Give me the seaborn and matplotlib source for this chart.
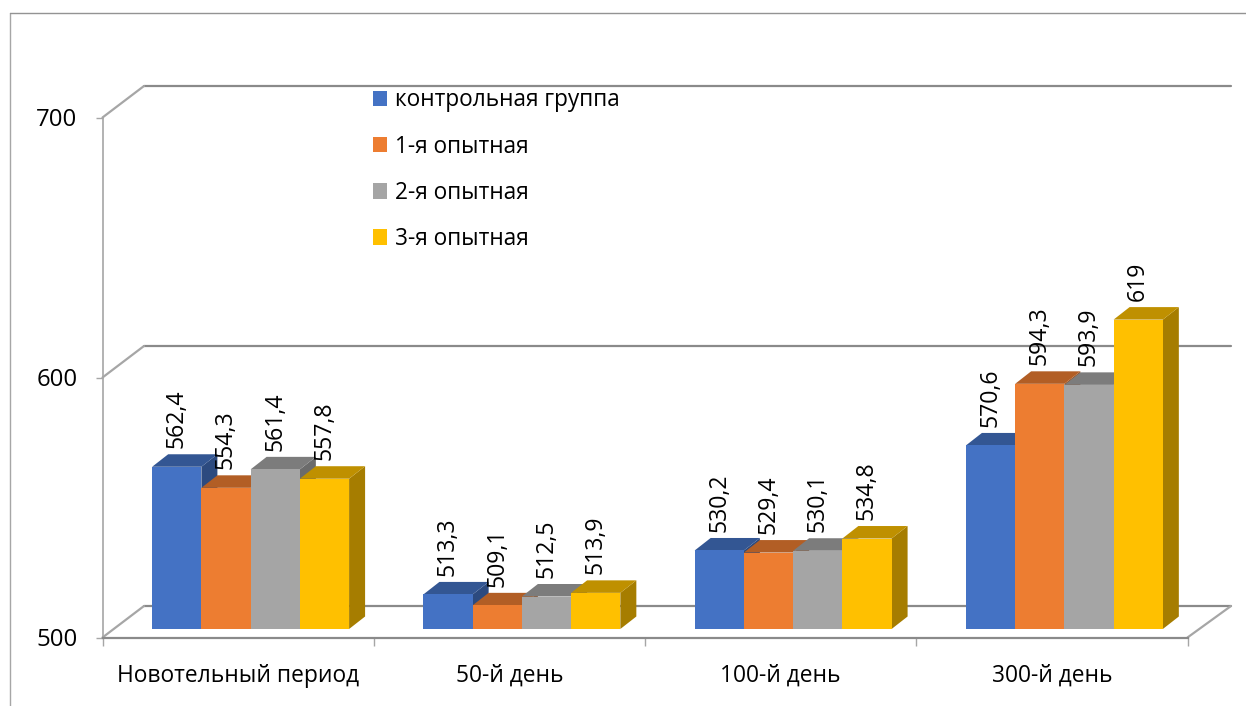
import pandas as pd
import matplotlib.pyplot as plt
import matplotlib.colors as mcolors
import matplotlib.transforms as mtransforms
from matplotlib.lines import Line2D
from matplotlib.patches import Patch, Polygon
import seaborn as sns

# Data
periods = ['Новотельный период', '50-й день', '100-й день', '300-й день']
groups = ['контрольная группа', '1-я опытная', '2-я опытная', '3-я опытная']
control = [562.4, 513.3, 530.2, 570.6]
exp_1 = [554.3, 509.1, 529.4, 594.3]
exp_2 = [561.4, 512.5, 530.1, 593.9]
exp_3 = [557.8, 513.9, 534.8, 619]
y_ticks = [500, 600, 700]
colors = ['#4472C4', '#ED7D31', '#A5A5A5', '#FFC000']

GRID = '#8a8a8a'
AXIS = '#a6a6a6'
W, H = 1246, 706

sns.set_theme(style='white')
plt.rcParams['font.family'] = ['Open Sans', 'DejaVu Sans']

rows = []
for group, values in zip(groups, [control, exp_1, exp_2, exp_3]):
    for period, value in zip(periods, values):
        rows.append({'period': period, 'group': group, 'value': value})
df = pd.DataFrame(rows)

fig = plt.figure(figsize=(W / 100, H / 100), dpi=100)
ax = fig.add_axes([102.5 / W, (H - 637.5) / H, 1085 / W, 520 / H])

sns.barplot(data=df, x='period', y='value', hue='group', order=periods, hue_order=groups,
            palette=colors, width=0.726, gap=0, saturation=1, legend=False, ax=ax, zorder=3,
            linewidth=0, edgecolor='none')
ax.set_xlim(-0.5, 3.5)
ax.set_ylim(500, 700)
ax.set_xlabel('')
ax.set_ylabel('')
ax.patch.set_visible(False)

# axes lines and ticks
for side in ['top', 'right']:
    ax.spines[side].set_visible(False)
ax.spines['left'].set_color(AXIS)
ax.spines['left'].set_linewidth(1.2)
ax.spines['bottom'].set_color(GRID)
ax.spines['bottom'].set_linewidth(1.6)
ax.set_yticks(y_ticks)
ax.set_xticks(range(len(periods)))
ax.set_xticklabels(periods)
ax.set_xticks([i - 0.5 for i in range(len(periods) + 1)], minor=True)
ax.tick_params(axis='x', which='major', length=0, pad=19, labelsize=16.4, colors='black')
ax.tick_params(axis='x', which='minor', length=6, width=1, color=AXIS, bottom=True)
ax.tick_params(axis='y', length=5, width=1, color=AXIS, left=True, pad=13, labelsize=17.3, labelcolor='black')

# back wall and floor, shifted by the chart depth
back = mtransforms.offset_copy(ax.get_yaxis_transform(), fig=fig, x=41.5, y=31.5, units='dots')
for tick in y_ticks:
    ax.plot([0, 1.002], [tick, tick], color=GRID, lw=1.6, transform=back, clip_on=False, zorder=1)
    x0, y0 = ax.get_yaxis_transform().transform((0, tick))
    ax.plot([x0, x0 + 41.5], [y0, y0 + 31.5], color=AXIS, lw=1.6,
            transform=mtransforms.IdentityTransform(), clip_on=False, zorder=1)
x1, y1 = ax.get_yaxis_transform().transform((1, y_ticks[0]))
ax.plot([x1, x1 + 43.5], [y1, y1 + 31.5], color=AXIS, lw=1.6,
        transform=mtransforms.IdentityTransform(), clip_on=False, zorder=1)

# bars stand a little behind the front edge
bar_shift = mtransforms.offset_copy(ax.transData, fig=fig, x=12.5, y=8.5, units='dots')
DX, DY = 16, 12.5
bars = sorted(ax.patches, key=lambda b: b.get_x())
for order, bar in enumerate(bars):
    color = bar.get_facecolor()
    left = bar.get_x()
    width = bar.get_width()
    top = bar.get_height()
    bar.set_y(y_ticks[0])
    bar.set_height(top - y_ticks[0])
    bar.set_transform(bar_shift)
    bar.set_clip_on(False)
    bar.set_zorder(3 + order * 0.01 + 0.002)

    (xa, ya), (xb, yb) = bar_shift.transform([(left, y_ticks[0]), (left + width, top)])
    base = mcolors.to_rgb(color)
    top_color = tuple(c * 0.75 for c in base)
    side_color = tuple(c * 0.65 for c in base)
    side = Polygon([(xb, ya), (xb + DX, ya + DY), (xb + DX, yb + DY), (xb, yb)], closed=True,
                   facecolor=side_color, edgecolor='none',
                   transform=mtransforms.IdentityTransform(), clip_on=False, zorder=3 + order * 0.01)
    roof = Polygon([(xa, yb), (xb, yb), (xb + DX, yb + DY), (xa + DX, yb + DY)], closed=True,
                   facecolor=top_color, edgecolor='none',
                   transform=mtransforms.IdentityTransform(), clip_on=False, zorder=3 + order * 0.01)
    ax.add_patch(side)
    ax.add_patch(roof)

    label = f'{top:g}'.replace('.', ',')
    ax.annotate(label, (left + width / 2, top), xycoords=bar_shift, xytext=(0, 13.5),
                textcoords='offset points', rotation=90, ha='center', va='bottom',
                fontsize=16.6, color='black', zorder=5, annotation_clip=False)

handles = [Patch(facecolor=c, edgecolor='none') for c in colors]
ax.legend(handles, groups, loc='upper left', bbox_to_anchor=(372.5 / W, (H - 88.5) / H),
          bbox_transform=fig.transFigure, frameon=False, fontsize=16.3, labelcolor='black',
          borderpad=0, borderaxespad=0, handlelength=0.66, handleheight=0.66,
          handletextpad=0.35, labelspacing=0.98)

# outer chart frame
fig.add_artist(Line2D([9.5 / W, 9.5 / W], [0, (H - 12.5) / H], color=AXIS, lw=1))
fig.add_artist(Line2D([9.5 / W, 1], [(H - 12.5) / H, (H - 12.5) / H], color='#939393', lw=1))

plt.savefig('out.png', dpi=100)
